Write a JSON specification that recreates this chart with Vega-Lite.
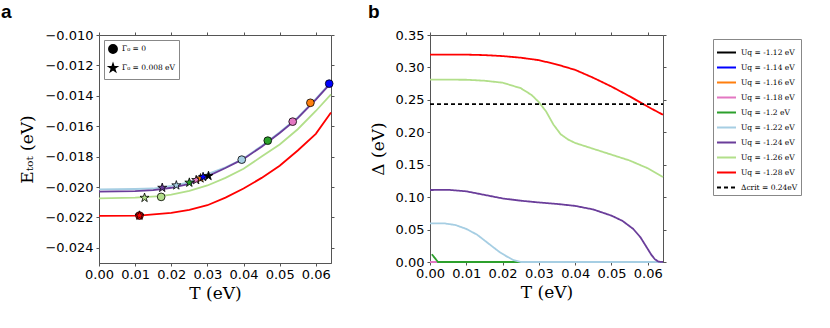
{
  "$schema": "https://vega.github.io/schema/vega-lite/v6.json",
  "padding": {"left": 0, "top": 2, "right": 5, "bottom": 5},
  "spacing": 31,
  "config": {
    "view": {"stroke": "#555", "strokeWidth": 1},
    "axis": {"labelFont": "DejaVu Sans", "labelFontSize": 13, "labelColor": "#000", "labelOverlap": false, "labelFlush": false, "titleFont": "DejaVu Serif", "titleFontSize": 17, "titleFontWeight": "normal", "titleColor": "#000", "grid": false, "domainColor": "#555", "tickColor": "#555", "tickSize": 3, "labelPadding": 3},
    "axisY": {"titlePadding": 8},
    "axisX": {"labelPadding": 2}
  },
  "datasets": {
    "etot": [
      {"T": 0, "E": -0.02015, "s": "Uq = -1.22 eV"},
      {"T": 0.01, "E": -0.02013, "s": "Uq = -1.22 eV"},
      {"T": 0.015, "E": -0.0201, "s": "Uq = -1.22 eV"},
      {"T": 0.02, "E": -0.01993, "s": "Uq = -1.22 eV"},
      {"T": 0.025, "E": -0.0197, "s": "Uq = -1.22 eV"},
      {"T": 0.03, "E": -0.01915, "s": "Uq = -1.22 eV"},
      {"T": 0.035, "E": -0.0187, "s": "Uq = -1.22 eV"},
      {"T": 0.0395, "E": -0.0182, "s": "Uq = -1.22 eV"},
      {"T": 0.045, "E": -0.0173, "s": "Uq = -1.22 eV"},
      {"T": 0.05, "E": -0.0164, "s": "Uq = -1.22 eV"},
      {"T": 0.055, "E": -0.01542, "s": "Uq = -1.22 eV"},
      {"T": 0.06, "E": -0.0142, "s": "Uq = -1.22 eV"},
      {"T": 0.0642, "E": -0.0131, "s": "Uq = -1.22 eV"},
      {"T": 0, "E": -0.0203, "s": "Uq = -1.24 eV"},
      {"T": 0.01, "E": -0.02027, "s": "Uq = -1.24 eV"},
      {"T": 0.015, "E": -0.0202, "s": "Uq = -1.24 eV"},
      {"T": 0.02, "E": -0.02005, "s": "Uq = -1.24 eV"},
      {"T": 0.025, "E": -0.0198, "s": "Uq = -1.24 eV"},
      {"T": 0.03, "E": -0.0193, "s": "Uq = -1.24 eV"},
      {"T": 0.035, "E": -0.01875, "s": "Uq = -1.24 eV"},
      {"T": 0.04, "E": -0.01815, "s": "Uq = -1.24 eV"},
      {"T": 0.045, "E": -0.01735, "s": "Uq = -1.24 eV"},
      {"T": 0.05, "E": -0.01645, "s": "Uq = -1.24 eV"},
      {"T": 0.055, "E": -0.01547, "s": "Uq = -1.24 eV"},
      {"T": 0.06, "E": -0.01425, "s": "Uq = -1.24 eV"},
      {"T": 0.0642, "E": -0.01315, "s": "Uq = -1.24 eV"},
      {"T": 0, "E": -0.02075, "s": "Uq = -1.26 eV"},
      {"T": 0.01, "E": -0.0207, "s": "Uq = -1.26 eV"},
      {"T": 0.017, "E": -0.0206, "s": "Uq = -1.26 eV"},
      {"T": 0.02, "E": -0.0205, "s": "Uq = -1.26 eV"},
      {"T": 0.025, "E": -0.02025, "s": "Uq = -1.26 eV"},
      {"T": 0.03, "E": -0.0199, "s": "Uq = -1.26 eV"},
      {"T": 0.035, "E": -0.0194, "s": "Uq = -1.26 eV"},
      {"T": 0.04, "E": -0.0188, "s": "Uq = -1.26 eV"},
      {"T": 0.045, "E": -0.018, "s": "Uq = -1.26 eV"},
      {"T": 0.05, "E": -0.0172, "s": "Uq = -1.26 eV"},
      {"T": 0.055, "E": -0.0162, "s": "Uq = -1.26 eV"},
      {"T": 0.06, "E": -0.015, "s": "Uq = -1.26 eV"},
      {"T": 0.0642, "E": -0.0139, "s": "Uq = -1.26 eV"},
      {"T": 0, "E": -0.0219, "s": "Uq = -1.28 eV"},
      {"T": 0.011, "E": -0.02188, "s": "Uq = -1.28 eV"},
      {"T": 0.02, "E": -0.0217, "s": "Uq = -1.28 eV"},
      {"T": 0.025, "E": -0.0215, "s": "Uq = -1.28 eV"},
      {"T": 0.03, "E": -0.0212, "s": "Uq = -1.28 eV"},
      {"T": 0.035, "E": -0.0207, "s": "Uq = -1.28 eV"},
      {"T": 0.04, "E": -0.0201, "s": "Uq = -1.28 eV"},
      {"T": 0.045, "E": -0.0194, "s": "Uq = -1.28 eV"},
      {"T": 0.05, "E": -0.0186, "s": "Uq = -1.28 eV"},
      {"T": 0.055, "E": -0.0176, "s": "Uq = -1.28 eV"},
      {"T": 0.06, "E": -0.0165, "s": "Uq = -1.28 eV"},
      {"T": 0.0642, "E": -0.0151, "s": "Uq = -1.28 eV"}
    ],
    "pts": [
      {"T": 0.0112, "E": -0.02188, "s": "Uq = -1.28 eV", "g": "Γ₀ = 0"},
      {"T": 0.0172, "E": -0.02065, "s": "Uq = -1.26 eV", "g": "Γ₀ = 0"},
      {"T": 0.0395, "E": -0.0182, "s": "Uq = -1.22 eV", "g": "Γ₀ = 0"},
      {"T": 0.0467, "E": -0.01695, "s": "Uq = -1.2 eV", "g": "Γ₀ = 0"},
      {"T": 0.0536, "E": -0.0157, "s": "Uq = -1.18 eV", "g": "Γ₀ = 0"},
      {"T": 0.0585, "E": -0.01446, "s": "Uq = -1.16 eV", "g": "Γ₀ = 0"},
      {"T": 0.0637, "E": -0.0132, "s": "Uq = -1.14 eV", "g": "Γ₀ = 0"},
      {"T": 0.0112, "E": -0.02188, "s": "Uq = -1.28 eV", "g": "Γ₀ = 0.008 eV"},
      {"T": 0.0126, "E": -0.02071, "s": "Uq = -1.26 eV", "g": "Γ₀ = 0.008 eV"},
      {"T": 0.0175, "E": -0.02005, "s": "Uq = -1.24 eV", "g": "Γ₀ = 0.008 eV"},
      {"T": 0.0214, "E": -0.01989, "s": "Uq = -1.22 eV", "g": "Γ₀ = 0.008 eV"},
      {"T": 0.025, "E": -0.01971, "s": "Uq = -1.2 eV", "g": "Γ₀ = 0.008 eV"},
      {"T": 0.0269, "E": -0.01954, "s": "Uq = -1.18 eV", "g": "Γ₀ = 0.008 eV"},
      {"T": 0.0281, "E": -0.01943, "s": "Uq = -1.16 eV", "g": "Γ₀ = 0.008 eV"},
      {"T": 0.0288, "E": -0.01934, "s": "Uq = -1.14 eV", "g": "Γ₀ = 0.008 eV"},
      {"T": 0.0303, "E": -0.01927, "s": "Uq = -1.12 eV", "g": "Γ₀ = 0.008 eV"}
    ],
    "gap": [
      {"T": 0, "D": 0, "s": "Uq = -1.12 eV"},
      {"T": 0.0642, "D": 0, "s": "Uq = -1.12 eV"},
      {"T": 0, "D": 0, "s": "Uq = -1.14 eV"},
      {"T": 0.0642, "D": 0, "s": "Uq = -1.14 eV"},
      {"T": 0, "D": 0, "s": "Uq = -1.16 eV"},
      {"T": 0.0642, "D": 0, "s": "Uq = -1.16 eV"},
      {"T": 0, "D": 0, "s": "Uq = -1.18 eV"},
      {"T": 0.0642, "D": 0, "s": "Uq = -1.18 eV"},
      {"T": 0.0005, "D": 0.012, "s": "Uq = -1.2 eV"},
      {"T": 0.0022, "D": 0, "s": "Uq = -1.2 eV"},
      {"T": 0.0642, "D": 0, "s": "Uq = -1.2 eV"},
      {"T": 0, "D": 0.0597, "s": "Uq = -1.22 eV"},
      {"T": 0.004, "D": 0.0595, "s": "Uq = -1.22 eV"},
      {"T": 0.007, "D": 0.057, "s": "Uq = -1.22 eV"},
      {"T": 0.01, "D": 0.051, "s": "Uq = -1.22 eV"},
      {"T": 0.013, "D": 0.042, "s": "Uq = -1.22 eV"},
      {"T": 0.016, "D": 0.029, "s": "Uq = -1.22 eV"},
      {"T": 0.019, "D": 0.016, "s": "Uq = -1.22 eV"},
      {"T": 0.021, "D": 0.009, "s": "Uq = -1.22 eV"},
      {"T": 0.023, "D": 0.003, "s": "Uq = -1.22 eV"},
      {"T": 0.025, "D": 0, "s": "Uq = -1.22 eV"},
      {"T": 0.0642, "D": 0, "s": "Uq = -1.22 eV"},
      {"T": 0, "D": 0.111, "s": "Uq = -1.24 eV"},
      {"T": 0.005, "D": 0.1113, "s": "Uq = -1.24 eV"},
      {"T": 0.01, "D": 0.109, "s": "Uq = -1.24 eV"},
      {"T": 0.015, "D": 0.1035, "s": "Uq = -1.24 eV"},
      {"T": 0.02, "D": 0.098, "s": "Uq = -1.24 eV"},
      {"T": 0.025, "D": 0.0945, "s": "Uq = -1.24 eV"},
      {"T": 0.03, "D": 0.0918, "s": "Uq = -1.24 eV"},
      {"T": 0.035, "D": 0.0895, "s": "Uq = -1.24 eV"},
      {"T": 0.04, "D": 0.0865, "s": "Uq = -1.24 eV"},
      {"T": 0.045, "D": 0.081, "s": "Uq = -1.24 eV"},
      {"T": 0.05, "D": 0.0715, "s": "Uq = -1.24 eV"},
      {"T": 0.053, "D": 0.0635, "s": "Uq = -1.24 eV"},
      {"T": 0.056, "D": 0.051, "s": "Uq = -1.24 eV"},
      {"T": 0.058, "D": 0.038, "s": "Uq = -1.24 eV"},
      {"T": 0.06, "D": 0.02, "s": "Uq = -1.24 eV"},
      {"T": 0.061, "D": 0.011, "s": "Uq = -1.24 eV"},
      {"T": 0.062, "D": 0.004, "s": "Uq = -1.24 eV"},
      {"T": 0.063, "D": 0.0005, "s": "Uq = -1.24 eV"},
      {"T": 0.0642, "D": 0, "s": "Uq = -1.24 eV"},
      {"T": 0, "D": 0.2812, "s": "Uq = -1.26 eV"},
      {"T": 0.01, "D": 0.281, "s": "Uq = -1.26 eV"},
      {"T": 0.015, "D": 0.2795, "s": "Uq = -1.26 eV"},
      {"T": 0.02, "D": 0.2765, "s": "Uq = -1.26 eV"},
      {"T": 0.025, "D": 0.268, "s": "Uq = -1.26 eV"},
      {"T": 0.028, "D": 0.2575, "s": "Uq = -1.26 eV"},
      {"T": 0.03, "D": 0.2465, "s": "Uq = -1.26 eV"},
      {"T": 0.032, "D": 0.232, "s": "Uq = -1.26 eV"},
      {"T": 0.034, "D": 0.212, "s": "Uq = -1.26 eV"},
      {"T": 0.036, "D": 0.197, "s": "Uq = -1.26 eV"},
      {"T": 0.038, "D": 0.189, "s": "Uq = -1.26 eV"},
      {"T": 0.04, "D": 0.1835, "s": "Uq = -1.26 eV"},
      {"T": 0.045, "D": 0.1745, "s": "Uq = -1.26 eV"},
      {"T": 0.05, "D": 0.1655, "s": "Uq = -1.26 eV"},
      {"T": 0.055, "D": 0.1565, "s": "Uq = -1.26 eV"},
      {"T": 0.06, "D": 0.1445, "s": "Uq = -1.26 eV"},
      {"T": 0.0642, "D": 0.131, "s": "Uq = -1.26 eV"},
      {"T": 0, "D": 0.3198, "s": "Uq = -1.28 eV"},
      {"T": 0.01, "D": 0.3197, "s": "Uq = -1.28 eV"},
      {"T": 0.015, "D": 0.319, "s": "Uq = -1.28 eV"},
      {"T": 0.02, "D": 0.3175, "s": "Uq = -1.28 eV"},
      {"T": 0.025, "D": 0.315, "s": "Uq = -1.28 eV"},
      {"T": 0.03, "D": 0.3112, "s": "Uq = -1.28 eV"},
      {"T": 0.035, "D": 0.3045, "s": "Uq = -1.28 eV"},
      {"T": 0.04, "D": 0.2962, "s": "Uq = -1.28 eV"},
      {"T": 0.045, "D": 0.284, "s": "Uq = -1.28 eV"},
      {"T": 0.05, "D": 0.2705, "s": "Uq = -1.28 eV"},
      {"T": 0.055, "D": 0.2555, "s": "Uq = -1.28 eV"},
      {"T": 0.06, "D": 0.2395, "s": "Uq = -1.28 eV"},
      {"T": 0.0642, "D": 0.227, "s": "Uq = -1.28 eV"},
      {"T": 0, "D": 0.2435, "s": "Δcrit = 0.24eV"},
      {"T": 0.0642, "D": 0.2435, "s": "Δcrit = 0.24eV"}
    ]
  },
  "resolve": {"scale": {"color": "independent", "shape": "independent", "strokeDash": "independent"}},
  "hconcat": [
    {
      "width": 232,
      "height": 228,
      "title": {"text": "a", "anchor": "start", "frame": "group", "dx": -98, "offset": 7, "fontSize": 19, "fontWeight": "bold", "font": "Liberation Sans"},
      "resolve": {"axis": {"x": "independent", "y": "independent"}},
      "layer": [
        {
          "data": {"name": "etot"},
          "mark": {"type": "line", "strokeWidth": 1.8},
          "encoding": {
            "x": {"field": "T", "type": "quantitative", "scale": {"domain": [0, 0.0642], "nice": false}, "axis": {"values": [0, 0.01, 0.02, 0.03, 0.04, 0.05, 0.06], "format": ".2f", "title": "T (eV)"}},
            "y": {"field": "E", "type": "quantitative", "scale": {"domain": [-0.025, -0.01], "nice": false, "zero": false}, "axis": {"values": [-0.024, -0.022, -0.02, -0.018, -0.016, -0.014, -0.012, -0.01], "format": ".3f", "title": "Eₜₒₜ (eV)"}},
            "color": {"field": "s", "type": "nominal", "scale": {"domain": ["Uq = -1.12 eV", "Uq = -1.14 eV", "Uq = -1.16 eV", "Uq = -1.18 eV", "Uq = -1.2 eV", "Uq = -1.22 eV", "Uq = -1.24 eV", "Uq = -1.26 eV", "Uq = -1.28 eV"], "range": ["#000000", "#0000ff", "#ff7f0e", "#e377c2", "#2ca02c", "#a6cee3", "#6a3d9a", "#b2df8a", "#ff0000"]}, "legend": null}
          }
        },
        {
          "data": {"name": "pts"},
          "mark": {"type": "point", "filled": true, "stroke": "#000", "strokeWidth": 0.8, "opacity": 1},
          "encoding": {
            "x": {"field": "T", "type": "quantitative", "axis": {"orient": "top", "values": [0, 0.01, 0.02, 0.03, 0.04, 0.05, 0.06], "labels": false, "domain": false, "title": null}},
            "y": {"field": "E", "type": "quantitative", "axis": {"orient": "right", "values": [-0.024, -0.022, -0.02, -0.018, -0.016, -0.014, -0.012, -0.01], "labels": false, "domain": false, "title": null}},
            "fill": {"field": "s", "type": "nominal", "scale": {"domain": ["Uq = -1.12 eV", "Uq = -1.14 eV", "Uq = -1.16 eV", "Uq = -1.18 eV", "Uq = -1.2 eV", "Uq = -1.22 eV", "Uq = -1.24 eV", "Uq = -1.26 eV", "Uq = -1.28 eV"], "range": ["#000000", "#0000ff", "#ff7f0e", "#e377c2", "#2ca02c", "#a6cee3", "#6a3d9a", "#b2df8a", "#ff0000"]}, "legend": null},
            "size": {"field": "g", "type": "nominal", "scale": {"domain": ["Γ₀ = 0", "Γ₀ = 0.008 eV"], "range": [60, 90]}, "legend": null},
            "shape": {"field": "g", "type": "nominal", "scale": {"domain": ["Γ₀ = 0", "Γ₀ = 0.008 eV"], "range": ["circle", "M0,-1L0.225,-0.309L0.951,-0.309L0.363,0.118L0.588,0.809L0,0.382L-0.588,0.809L-0.363,0.118L-0.951,-0.309L-0.225,-0.309Z"]}, "legend": {"orient": "top-left", "offset": 5, "title": null, "padding": 4, "strokeColor": "#888", "fillColor": "#fff", "labelFont": "DejaVu Serif", "labelFontSize": 7.5, "symbolFillColor": "#000", "symbolStrokeColor": "#000", "symbolSize": 70, "rowPadding": 3}}
          }
        }
      ]
    },
    {
      "width": 233,
      "height": 227,
      "title": {"text": "b", "anchor": "start", "frame": "group", "dx": -62, "offset": 7, "fontSize": 19, "fontWeight": "bold", "font": "Liberation Sans"},
      "resolve": {"axis": {"x": "independent", "y": "independent"}},
      "layer": [
        {
          "data": {"name": "gap"},
          "mark": {"type": "line", "strokeWidth": 1.8},
          "encoding": {
            "x": {"field": "T", "type": "quantitative", "scale": {"domain": [0, 0.0642], "nice": false}, "axis": {"values": [0, 0.01, 0.02, 0.03, 0.04, 0.05, 0.06], "format": ".2f", "title": "T (eV)"}},
            "y": {"field": "D", "type": "quantitative", "scale": {"domain": [0, 0.35], "nice": false}, "axis": {"values": [0, 0.05, 0.1, 0.15, 0.2, 0.25, 0.3, 0.35], "format": ".2f", "title": "Δ (eV)"}},
            "color": {"field": "s", "type": "nominal", "scale": {"domain": ["Uq = -1.12 eV", "Uq = -1.14 eV", "Uq = -1.16 eV", "Uq = -1.18 eV", "Uq = -1.2 eV", "Uq = -1.22 eV", "Uq = -1.24 eV", "Uq = -1.26 eV", "Uq = -1.28 eV", "Δcrit = 0.24eV"], "range": ["#000000", "#0000ff", "#ff7f0e", "#e377c2", "#2ca02c", "#a6cee3", "#6a3d9a", "#b2df8a", "#ff0000", "#000000"]}, "legend": {"orient": "none", "legendX": 283, "legendY": 4, "title": null, "padding": 3, "strokeColor": "#888", "labelFont": "DejaVu Serif", "labelFontSize": 7.5, "symbolType": "stroke", "symbolSize": 361, "symbolStrokeWidth": 2, "rowPadding": 0}},
            "strokeDash": {"field": "s", "type": "nominal", "scale": {"domain": ["Uq = -1.12 eV", "Uq = -1.14 eV", "Uq = -1.16 eV", "Uq = -1.18 eV", "Uq = -1.2 eV", "Uq = -1.22 eV", "Uq = -1.24 eV", "Uq = -1.26 eV", "Uq = -1.28 eV", "Δcrit = 0.24eV"], "range": [[1, 0], [1, 0], [1, 0], [1, 0], [1, 0], [1, 0], [1, 0], [1, 0], [1, 0], [4, 3]]}, "legend": {"orient": "none", "legendX": 283, "legendY": 4, "title": null, "padding": 3, "strokeColor": "#888", "labelFont": "DejaVu Serif", "labelFontSize": 7.5, "symbolType": "stroke", "symbolSize": 361, "symbolStrokeWidth": 2, "rowPadding": 0}}
          }
        },
        {
          "data": {"name": "gap"},
          "transform": [{"filter": "datum.s == 'Δcrit = 0.24eV'"}],
          "mark": {"type": "point", "opacity": 0},
          "encoding": {
            "x": {"field": "T", "type": "quantitative", "axis": {"orient": "top", "values": [0, 0.01, 0.02, 0.03, 0.04, 0.05, 0.06], "labels": false, "domain": false, "title": null}},
            "y": {"field": "D", "type": "quantitative", "axis": {"orient": "right", "values": [0, 0.05, 0.1, 0.15, 0.2, 0.25, 0.3, 0.35], "labels": false, "domain": false, "title": null}}
          }
        }
      ]
    }
  ]
}
